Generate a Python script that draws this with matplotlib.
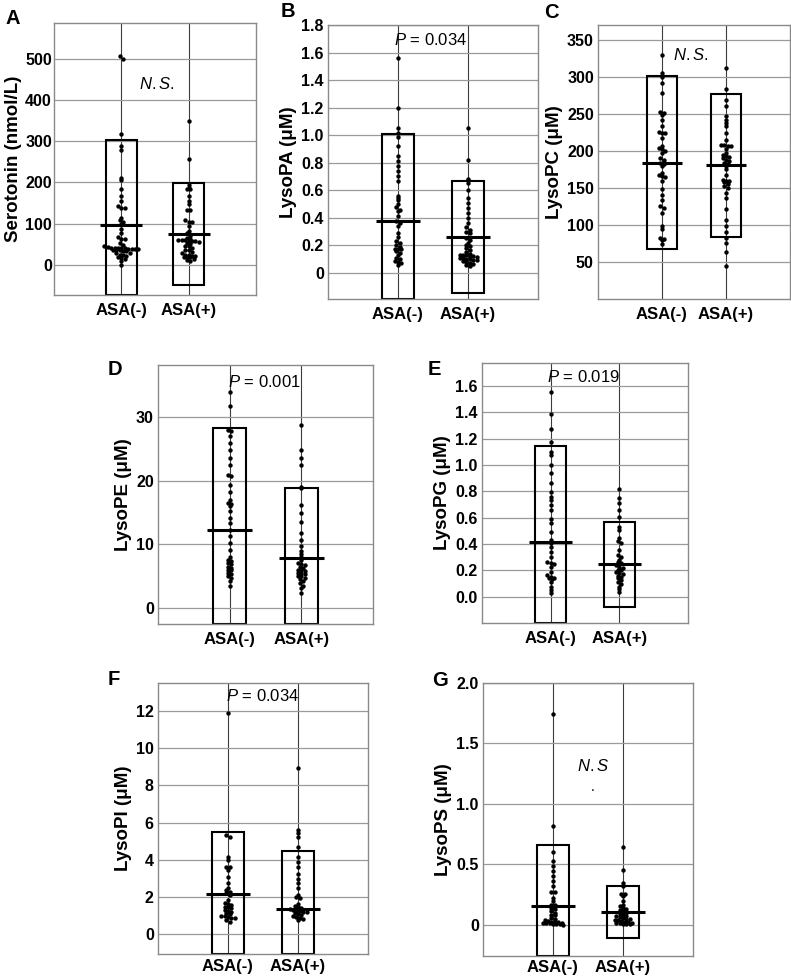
import numpy as np
import matplotlib
matplotlib.use("Agg")
import matplotlib.pyplot as plt
from matplotlib.patches import Rectangle

plt.rcParams['font.family'] = ['Liberation Sans', 'DejaVu Sans']
plt.rcParams['mathtext.fontset'] = 'custom'
plt.rcParams['mathtext.it'] = 'Liberation Sans:italic'
plt.rcParams['mathtext.rm'] = 'Liberation Sans'

groups = ["ASA(-)", "ASA(+)"]

# Serotonin (nmol/L)
A_neg = [507, 500, 318, 288, 280, 211, 207, 183, 167, 155, 142, 138, 138, 114, 110, 104,
         100, 86, 78, 68, 62, 62, 53, 49, 45, 44, 41, 41, 40, 40, 40, 39, 39, 38, 38, 37,
         36, 35, 33, 33, 30, 28, 25, 25, 22, 20, 17, 15, 9, 1]
A_pos = [349, 256, 195, 187, 185, 185, 167, 155, 147, 133, 133, 110, 104, 104, 94, 82, 78,
         71, 66, 62, 60, 60, 60, 58, 57, 57, 55, 53, 50, 45, 45, 42, 37, 35, 31, 28, 25, 25,
         22, 21, 20, 19, 18, 15, 12, 9]
A_mean = [98, 75]
A_hi = [303, 198]
A_lo = [-107, -48]

# LysoPA
B_neg = [1.563, 1.196, 1.05, 1.015, 0.99, 0.918, 0.846, 0.81, 0.773, 0.737, 0.70, 0.664,
         0.556, 0.54, 0.53, 0.50, 0.48, 0.46, 0.447, 0.41, 0.374, 0.36, 0.338, 0.29, 0.26,
         0.23, 0.22, 0.205, 0.19, 0.174, 0.174, 0.17, 0.16, 0.145, 0.13, 0.11, 0.10, 0.085,
         0.08, 0.07, 0.06]
B_pos = [1.05, 0.82, 0.68, 0.677, 0.652, 0.604, 0.544, 0.507, 0.471, 0.435, 0.40, 0.362,
         0.33, 0.314, 0.30, 0.29, 0.254, 0.24, 0.217, 0.2, 0.193, 0.18, 0.164, 0.15, 0.14,
         0.133, 0.133, 0.13, 0.125, 0.12, 0.116, 0.11, 0.105, 0.1, 0.097, 0.095, 0.09, 0.085,
         0.08, 0.072, 0.065, 0.06, 0.048]
B_mean = [0.375, 0.26]
B_hi = [1.01, 0.665]
B_lo = [-0.26, -0.15]

# LysoPC
C_neg = [330, 305, 300, 292, 278, 253, 251, 249, 242, 233, 226, 224, 224, 217, 206, 204,
         202, 200, 197, 190, 188, 184, 182, 179, 170, 167, 166, 165, 159, 148, 141, 134, 125,
         123, 116, 98, 94, 83, 81, 79, 74]
C_pos = [312, 283, 269, 260, 247, 242, 238, 233, 224, 215, 208, 208, 207, 206, 202, 197,
         195, 193, 192, 190, 188, 186, 184, 182, 179, 175, 168, 161, 160, 159, 158, 155, 152,
         150, 143, 137, 121, 107, 98, 90, 83, 76, 63, 45]
C_mean = [184, 181]
C_hi = [301, 277]
C_lo = [68, 84]

# LysoPE
D_neg = [33.9, 31.7, 28, 27.8, 27.1, 25.9, 24.9, 23.6, 22.5, 20.9, 20.7, 19.4, 18.3, 17.0,
         16.5, 16.3, 16, 15.2, 14.1, 13.4, 12.3, 11.3, 10.2, 9.2, 8.1, 7.6, 7.4, 7.1, 7.0,
         6.5, 6.3, 6.0, 6.0, 5.5, 5.4, 5.0, 4.8, 4.2, 3.4]
D_pos = [28.7, 24.9, 23.6, 22.5, 19.1, 18.8, 16.2, 14.9, 13.5, 11.8, 10.7, 9.7, 8.9, 8.5,
         8.1, 7.6, 7.1, 7.0, 6.8, 6.5, 6.3, 6.0, 6.0, 5.8, 5.5, 5.5, 5.3, 5.0, 5.0, 4.8, 4.5,
         4.3, 3.9, 3.5, 3.1, 2.4]
D_mean = [12.2, 7.9]
D_hi = [28.3, 18.9]
D_lo = [-3.9, -3.1]

# LysoPG
E_neg = [1.557, 1.385, 1.273, 1.177, 1.10, 1.076, 1.0, 0.937, 0.861, 0.797, 0.759, 0.734,
         0.696, 0.658, 0.587, 0.557, 0.494, 0.43, 0.405, 0.38, 0.342, 0.304, 0.26, 0.253,
         0.25, 0.228, 0.19, 0.165, 0.15, 0.145, 0.139, 0.135, 0.114, 0.076, 0.051, 0.03]
E_pos = [0.815, 0.747, 0.709, 0.658, 0.608, 0.532, 0.506, 0.443, 0.42, 0.405, 0.354, 0.316,
         0.3, 0.278, 0.26, 0.253, 0.24, 0.228, 0.22, 0.203, 0.2, 0.19, 0.177, 0.17, 0.16,
         0.152, 0.14, 0.13, 0.114, 0.1, 0.076, 0.06, 0.038]
E_mean = [0.413, 0.248]
E_hi = [1.147, 0.57]
E_lo = [-0.32, -0.076]

# LysoPI
F_neg = [11.9, 5.33, 5.24, 4.17, 3.99, 3.63, 3.6, 3.45, 3.09, 2.74, 2.47, 2.4, 2.29, 2.2,
         2.11, 1.84, 1.7, 1.66, 1.6, 1.5, 1.48, 1.4, 1.31, 1.25, 1.2, 1.13, 1.1, 1.0, 0.98,
         0.95, 0.9, 0.86, 0.8, 0.68]
F_pos = [8.94, 5.6, 5.42, 5.24, 4.7, 4.17, 3.9, 3.63, 3.27, 3.0, 2.74, 2.47, 2.11, 2.0,
         1.93, 1.66, 1.55, 1.48, 1.4, 1.34, 1.3, 1.28, 1.25, 1.22, 1.2, 1.15, 1.09, 1.05, 1.0,
         0.95, 0.9, 0.85, 0.77]
F_mean = [2.15, 1.38]
F_hi = [5.48, 4.48]
F_lo = [-1.18, -1.72]

# LysoPS
G_neg = [1.746, 0.814, 0.601, 0.524, 0.483, 0.441, 0.4, 0.359, 0.317, 0.268, 0.268, 0.22,
         0.193, 0.166, 0.16, 0.138, 0.13, 0.11, 0.1, 0.083, 0.08, 0.055, 0.05, 0.04, 0.028,
         0.025, 0.02, 0.018, 0.015, 0.014, 0.012, 0.01, 0.008, 0.005, 0.003, 0]
G_pos = [0.643, 0.45, 0.345, 0.317, 0.257, 0.25, 0.234, 0.193, 0.166, 0.15, 0.138, 0.13,
         0.12, 0.11, 0.1, 0.09, 0.083, 0.075, 0.07, 0.06, 0.055, 0.05, 0.045, 0.04, 0.035,
         0.028, 0.025, 0.02, 0.015, 0.012, 0.01, 0.008, 0.005, 0.003]
G_mean = [0.152, 0.102]
G_hi = [0.662, 0.317]
G_lo = [-0.365, -0.11]

W, H = 791, 980
fig = plt.figure(figsize=(W / 100, H / 100), dpi=100)


def swarm(ax, x0, vals, dot_px=3.4):
    # simple dot-plot layout: values in the same pixel row are spread sideways
    y0, y1 = ax.get_ylim()
    ybin = dot_px * (y1 - y0) / ax.bbox.height
    xstep = dot_px * 3.0 / ax.bbox.width
    vals = np.array(vals, dtype=float)
    rows = np.round(vals / ybin)
    xs = np.zeros_like(vals)
    for r in np.unique(rows):
        idx = np.where(rows == r)[0]
        k = len(idx)
        xs[idx] = x0 + (np.arange(k) - (k - 1) / 2) * xstep
    ax.scatter(xs, vals, s=10, color='black', linewidths=0, zorder=3)


def panel(box, letter, ylabel, neg, pos, mean, hi, lo, ylim, yticks, yticklabels,
          note, note_xy, labelpad=3, ypad=3, xpad=5.5):
    l, t, r, b = box
    ax = fig.add_axes([l / W, 1 - b / H, (r - l) / W, (b - t) / H])
    ax.set_xlim(-1, 2)
    ax.set_ylim(*ylim)
    ax.set_yticks(yticks)
    ax.set_yticklabels(yticklabels)
    ax.set_xticks([0, 1])
    ax.set_xticklabels(groups)
    ax.tick_params(length=0)
    ax.tick_params(axis='y', pad=ypad, labelsize=11.5)
    ax.tick_params(axis='x', pad=xpad, labelsize=12)
    for lab in ax.get_xticklabels() + ax.get_yticklabels():
        lab.set_fontweight('bold')
    ax.set_axisbelow(True)
    ax.yaxis.grid(True, color='#9a9a9a', lw=0.9)
    ax.xaxis.grid(True, color='#3c3c3c', lw=0.8)
    for sp in ax.spines.values():
        sp.set_color('#8a8a8a')
        sp.set_linewidth(1.0)
    ax.set_ylabel(ylabel, fontsize=13.5, fontweight='bold', labelpad=labelpad)

    for i, vals in enumerate([neg, pos]):
        bottom = max(lo[i], ylim[0])
        ax.add_patch(Rectangle((i - 0.23, bottom), 0.46, hi[i] - bottom, fill=False,
                               ec='black', lw=1.5, zorder=2))
        swarm(ax, i, vals)
        ax.hlines(mean[i], i - 0.31, i + 0.31, color='black', lw=2.2, zorder=4)

    ax.text(note_xy[0], note_xy[1], note, ha='center', va='center', fontsize=12)
    fig.text(letter[1] / W, 1 - letter[2] / H, letter[0], ha='left', va='top',
             fontsize=14.5, fontweight='bold')
    return ax


pv = r'$\mathit{P}$ = '

panel((54, 23, 256, 295), ('A', 6, 9), 'Serotonin (nmol/L)', A_neg, A_pos, A_mean, A_hi, A_lo,
      (-73, 587), [0, 100, 200, 300, 400, 500], ['0', '100', '200', '300', '400', '500'],
      r'$\mathit{N.S.}$', (0.53, 440), labelpad=2, ypad=1.5)
panel((328, 25, 538, 299), ('B', 281, 2), r'LysoPA (μM)', B_neg, B_pos, B_mean, B_hi, B_lo,
      (-0.19, 1.8), [0, 0.2, 0.4, 0.6, 0.8, 1.0, 1.2, 1.4, 1.6, 1.8],
      ['0', '0.2', '0.4', '0.6', '0.8', '1.0', '1.2', '1.4', '1.6', '1.8'],
      pv + '0.034', (0.46, 1.69))
panel((598, 25, 790, 299), ('C', 544, 3), r'LysoPC (μM)', C_neg, C_pos, C_mean, C_hi, C_lo,
      (0, 370), [50, 100, 150, 200, 250, 300, 350],
      ['50', '100', '150', '200', '250', '300', '350'],
      r'$\mathit{N.S.}$', (0.45, 330))
panel((158, 365, 373, 624), ('D', 108, 360), r'LysoPE (μM)', D_neg, D_pos, D_mean, D_hi, D_lo,
      (-2.5, 38.2), [0, 10, 20, 30], ['0', '10', '20', '30'],
      pv + '0.001', (0.48, 35.5))
panel((482, 363, 688, 623), ('E', 428, 360), r'LysoPG (μM)', E_neg, E_pos, E_mean, E_hi, E_lo,
      (-0.2, 1.775), [0, 0.2, 0.4, 0.6, 0.8, 1.0, 1.2, 1.4, 1.6],
      ['0.0', '0.2', '0.4', '0.6', '0.8', '1.0', '1.2', '1.4', '1.6'],
      pv + '0.019', (0.48, 1.67))
panel((158, 683, 368, 954), ('F', 108, 670), r'LysoPI (μM)', F_neg, F_pos, F_mean, F_hi, F_lo,
      (-1.05, 13.5), [0, 2, 4, 6, 8, 10, 12], ['0', '2', '4', '6', '8', '10', '12'],
      pv + '0.034', (0.5, 12.8), xpad=3.5)
axg = panel((483, 683, 693, 956), ('G', 432, 671), r'LysoPS (μM)', G_neg, G_pos, G_mean, G_hi,
            G_lo, (-0.26, 2.0), [0, 0.5, 1.0, 1.5, 2.0], ['0', '0.5', '1.0', '1.5', '2.0'],
            r'$\mathit{N.S}$', (0.57, 1.31), xpad=3)
axg.text(0.56, 1.11, '.', ha='center', va='baseline', fontsize=10)

fig.savefig("out.png", dpi=100)
